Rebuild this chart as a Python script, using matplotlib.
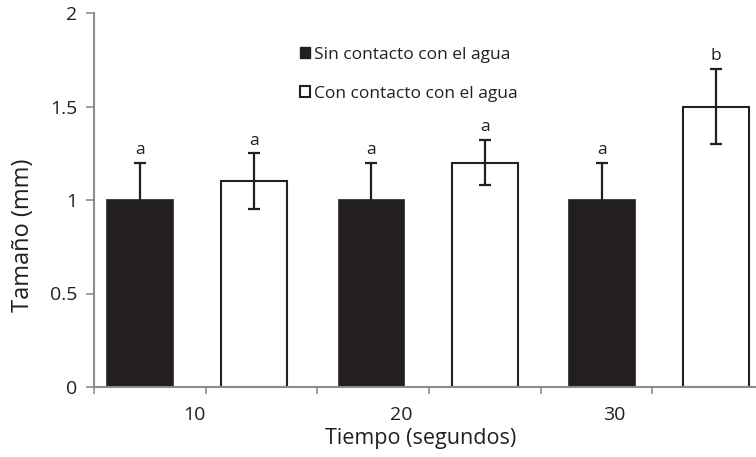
import matplotlib.pyplot as plt
import matplotlib.patches as mpatches

# data
tiempos = ["10", "20", "30"]
sin_agua = [1.0, 1.0, 1.0]
sin_agua_err = [0.2, 0.2, 0.2]
con_agua = [1.1, 1.2, 1.5]
con_agua_err = [0.15, 0.12, 0.2]
letras_sin = ["a", "a", "a"]
letras_con = ["a", "a", "b"]

plt.rcParams['font.family'] = ['Open Sans', 'DejaVu Sans']

fig = plt.figure(figsize=(7.56, 4.57), dpi=100)
# the axis runs past the right edge of the picture, like the original
ax = fig.add_axes([94 / 756, 70 / 457, 670 / 756, 374 / 457])

centros = [0.92, 2.995, 5.06]
desplaz = 0.51
ancho = 0.59
gris = '#8c8c8c'
oscuro = '#231f20'

x_sin = [c - desplaz for c in centros]
x_con = [c + desplaz for c in centros]

ax.bar(x_sin, sin_agua, width=ancho, color=oscuro, edgecolor=oscuro, linewidth=1.2, zorder=2)
ax.bar(x_con, con_agua, width=ancho, color='white', edgecolor=oscuro, linewidth=1.5, zorder=2)
ax.errorbar(x_sin, sin_agua, yerr=sin_agua_err, fmt='none', ecolor=oscuro,
            elinewidth=1.6, capsize=4.5, capthick=1.6, zorder=3)
ax.errorbar(x_con, con_agua, yerr=con_agua_err, fmt='none', ecolor=oscuro,
            elinewidth=1.6, capsize=4.5, capthick=1.6, zorder=3)

for xs, vals, errs, letras in [(x_sin, sin_agua, sin_agua_err, letras_sin),
                               (x_con, con_agua, con_agua_err, letras_con)]:
    for x, v, e, l in zip(xs, vals, errs, letras):
        ax.text(x, v + e + 0.025, l, ha='center', va='bottom', fontsize=12.5, color=oscuro)

ax.set_xlim(0, 6)
ax.set_ylim(0, 2)
ax.set_yticks([0, 0.5, 1, 1.5, 2])
ax.set_yticklabels(["0", "0.5", "1", "1.5", "2"])

# tick marks between slots, labels placed where the reference has them
ax.set_xticks(range(0, 7), minor=True)
ax.set_xticks([0.895, 2.75, 4.66])
ax.set_xticklabels(tiempos)
ax.tick_params(axis='x', which='major', length=0, pad=14, labelsize=14, colors=oscuro)
ax.tick_params(axis='x', which='minor', length=5, width=1.2, color=gris, direction='out')
ax.tick_params(axis='y', length=6, width=1.2, color=gris, labelsize=14, labelcolor=oscuro, pad=6)

for s in ['top', 'right']:
    ax.spines[s].set_visible(False)
for s in ['left', 'bottom']:
    ax.spines[s].set_color(gris)
    ax.spines[s].set_linewidth(1.5)

ax.set_xlabel("Tiempo (segundos)", fontsize=15.5, color=oscuro)
ax.xaxis.set_label_coords(0.488, -0.11)
ax.set_ylabel("Tamaño (mm)", fontsize=17, color=oscuro)
ax.yaxis.set_label_coords(-0.088, 0.406)

handles = [mpatches.Patch(facecolor=oscuro, edgecolor=oscuro, label="Sin contacto con el agua"),
           mpatches.Patch(facecolor='white', edgecolor=oscuro, linewidth=1.5, label="Con contacto con el agua")]
fig.legend(handles=handles, loc='upper left', bbox_to_anchor=(284 / 756, 1 - 31 / 457),
           frameon=False, fontsize=12.5, handlelength=0.6, handleheight=0.6,
           handletextpad=0.2, labelspacing=1.35, labelcolor=oscuro)

fig.savefig('out.png', dpi=100)
